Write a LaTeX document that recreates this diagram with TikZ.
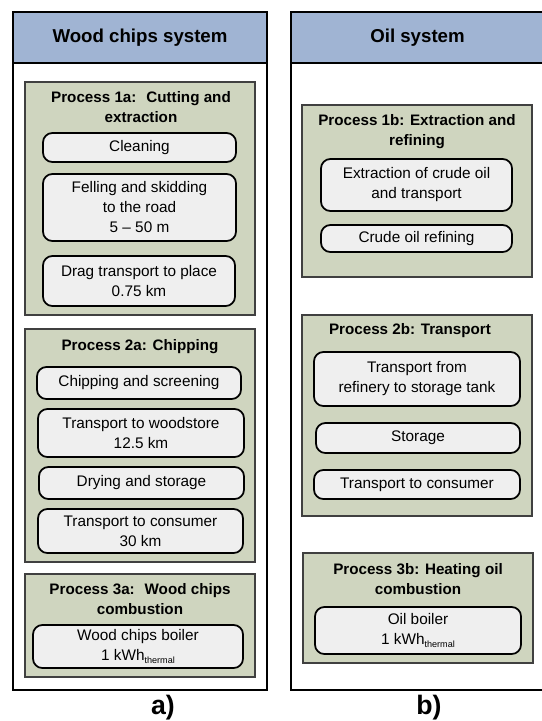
\documentclass[tikz,border=0pt]{standalone}
\usepackage{fontspec}
\setmainfont{Liberation Sans}
\definecolor{hdrblue}{RGB}{160,180,211}
\definecolor{procgreen}{RGB}{207,213,191}
\definecolor{stepfill}{RGB}{239,239,239}
\definecolor{procline}{RGB}{64,64,64}
\begin{document}
\begin{tikzpicture}[x=0.75pt,y=-0.75pt,
  sz/.style 2 args={minimum width=#1*0.75pt, minimum height=#2*0.75pt},
  outerbox/.style={draw=black, line width=1.5pt, fill=white, inner sep=0pt},
  hdrbox/.style={draw=black, line width=1.5pt, fill=hdrblue, inner sep=0pt,
    font=\fontsize{14}{17}\selectfont\bfseries},
  procbox/.style={draw=procline, line width=0.9pt, fill=procgreen, inner sep=0pt},
  proctitle/.style={inner sep=0pt, align=center, font=\fontsize{11.4}{15}\selectfont\bfseries},
  stepbox/.style={draw=black, line width=1.3pt, fill=stepfill, rounded corners=7pt,
    inner sep=0pt, align=center, font=\fontsize{11.5}{15}\selectfont},
  caption/.style={inner sep=0pt, font=\fontsize{20}{24}\selectfont\bfseries}]
\useasboundingbox (0,0) rectangle (542,721);
\clip (0,0) rectangle (542,721);
\newcommand{\thermsub}{\raisebox{-0.35ex}{\fontsize{6.8}{8}\selectfont thermal}}

% ---- left: wood chips system ----
\node[outerbox, sz={254}{678}] (outA) at (140,351) {};
\node[hdrbox, sz={254}{51}] (hdrA) at (140,37.5) {Wood chips system};

\node[procbox, sz={230}{233}] (p1a) at (140,198.5) {};
\node[proctitle] (t1a) at (141,107.5) {Process 1a:~ Cutting and\\extraction};
\node[stepbox, sz={193}{29}] (s1) at (139.5,147.5) {Cleaning};
\node[stepbox, sz={193}{67}] (s2) at (139.5,207.5) {Felling and skidding\\to the road\\5 -- 50 m};
\node[stepbox, sz={192}{50}] (s3) at (139,281) {Drag transport to place\\0.75 km};

\node[procbox, sz={230}{233}] (p2a) at (140,445.5) {};
\node[proctitle] (t2a) at (140,347) {Process 2a: Chipping};
\node[stepbox, sz={204}{32}] (s4) at (139,383) {Chipping and screening};
\node[stepbox, sz={206}{48}] (s5) at (141,433) {Transport to woodstore\\12.5 km};
\node[stepbox, sz={205}{32}] (s6) at (141.5,483) {Drying and storage};
\node[stepbox, sz={205}{44}] (s7) at (140.5,531) {Transport to consumer\\30 km};

\node[procbox, sz={230}{103}] (p3a) at (140,625.5) {};
\node[proctitle] (t3a) at (140,599) {Process 3a:~ Wood chips\\combustion};
\node[stepbox, sz={210}{43}] (s8) at (138,646.5) {Wood chips boiler\\1 kWh\thermsub};

\node[caption] (capA) at (163,708) {a)};

% ---- right: oil system ----
\node[outerbox, sz={253}{678}] (outB) at (417.5,351) {};
\node[hdrbox, sz={253}{51}] (hdrB) at (417.5,37.5) {Oil system};

\node[procbox, sz={230}{172}] (p1b) at (417,191) {};
\node[proctitle] (t1b) at (417,132) {Process 1b: Extraction and\\refining};
\node[stepbox, sz={191}{52}] (r1) at (416.5,185) {Extraction of crude oil\\and transport};
\node[stepbox, sz={191}{27}] (r2) at (416.5,238.5) {Crude oil refining};

\node[procbox, sz={230}{201}] (p2b) at (417,415.5) {};
\node[proctitle] (t2b) at (410,331) {Process 2b: Transport};
\node[stepbox, sz={206}{54}] (r3) at (417,379) {Transport from\\refinery to storage tank};
\node[stepbox, sz={204}{30}] (r4) at (418,438) {Storage};
\node[stepbox, sz={206}{29}] (r5) at (417,484.5) {Transport to consumer};

\node[procbox, sz={230}{110}] (p3b) at (418,608) {};
\node[proctitle] (t3b) at (418,579) {Process 3b: Heating oil\\combustion};
\node[stepbox, sz={206}{47}] (r6) at (418,630.5) {Oil boiler\\1 kWh\thermsub};

\node[caption] (capB) at (429,708) {b)};
\end{tikzpicture}
\end{document}
